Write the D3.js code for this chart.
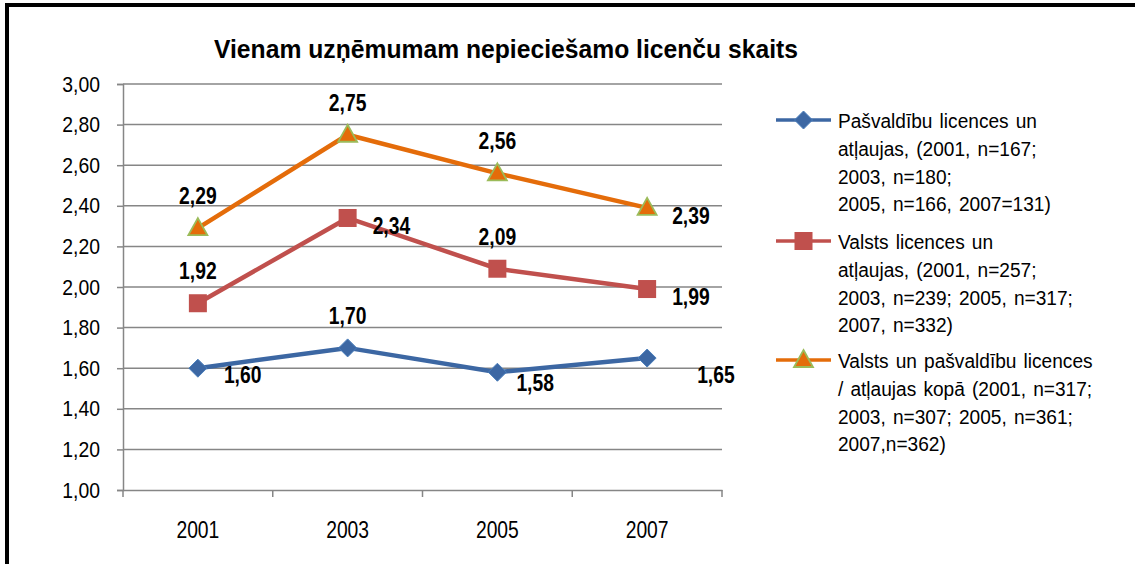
<!DOCTYPE html>
<html>
<head>
<meta charset="utf-8">
<script src="https://cdn.jsdelivr.net/npm/d3@7"></script>
<style>
  body { margin: 0; background: #fff; }
  svg text { font-family: "Liberation Sans", Arial, sans-serif; }
</style>
</head>
<body>
<script>
// Chart data
var years = ["2001", "2003", "2005", "2007"];
var yTicks = [1.0, 1.2, 1.4, 1.6, 1.8, 2.0, 2.2, 2.4, 2.6, 2.8, 3.0];

var pasvaldibu = [1.60, 1.70, 1.58, 1.65];
var valsts = [1.92, 2.34, 2.09, 1.99];
var kopa = [2.29, 2.75, 2.56, 2.39];

var legendPasvaldibu = ["Pašvaldību licences un", "atļaujas, (2001, n=167;", "2003, n=180;", "2005, n=166, 2007=131)"];
var legendValsts = ["Valsts licences un", "atļaujas, (2001, n=257;", "2003, n=239; 2005, n=317;", "2007, n=332)"];
var legendKopa = ["Valsts un pašvaldību licences", "/ atļaujas kopā (2001, n=317;", "2003, n=307; 2005, n=361;", "2007,n=362)"];

// label placement per point
var series = [
    { values: pasvaldibu, color: "#3C67A3", stroke: "#4A7EBB", marker: "diamond",
      legend: legendPasvaldibu, labelPos: ["below", "above", "below2", "far"] },
    { values: valsts, color: "#C0504D", stroke: "#C0504D", marker: "square",
      legend: legendValsts, labelPos: ["above", "right", "above", "right"] },
    { values: kopa, color: "#E46C0A", stroke: "#E46C0A", marker: "triangle",
      legend: legendKopa, labelPos: ["above", "above", "above", "right"] }
];

var width = 1135, height = 564;
var svg = d3.select("body").append("svg")
    .attr("width", width)
    .attr("height", height);

// condensed text helper
function addText(g, px, py, str, size, sx, opts) {
    opts = opts || {};
    return g.append("text")
        .attr("transform", `translate(${px},${py}) scale(${sx},1)`)
        .attr("text-anchor", opts.anchor || "start")
        .attr("font-size", size)
        .attr("font-weight", opts.bold ? "bold" : "normal")
        .attr("fill", "#000")
        .text(str);
}

// outer frame (top and left edges visible)
svg.append("line").attr("x1", 6).attr("x2", width).attr("y1", 5).attr("y2", 5)
    .attr("stroke", "#000").attr("stroke-width", 4);
svg.append("line").attr("x1", 7).attr("x2", 7).attr("y1", 3).attr("y2", height)
    .attr("stroke", "#000").attr("stroke-width", 4);

var x = d3.scaleBand().domain(years).range([123, 722]);
var y = d3.scaleLinear().domain([1, 3]).range([490, 84]);
var cx = function (i) { return x(years[i]) + x.bandwidth() / 2; };

// title
addText(svg, 506, 58, "Vienam uzņēmumam nepieciešamo licenču skaits", 26, 0.95, { anchor: "middle", bold: true });

var gridColor = "#868686";

// gridlines
svg.append("g").selectAll("line")
    .data(yTicks.slice(1))
    .enter().append("line")
    .attr("x1", 123).attr("x2", 722)
    .attr("y1", d => y(d)).attr("y2", d => y(d))
    .attr("stroke", gridColor).attr("stroke-width", 1.5);

// y axis
var ySx = 0.88;
var yAxis = svg.append("g")
    .attr("transform", "translate(123,0)")
    .call(d3.axisLeft(y).tickValues(yTicks).tickSize(6).tickPadding(17)
        .tickFormat(d => d3.format(".2f")(d).replace(".", ",")));
yAxis.select(".domain").attr("stroke", gridColor).attr("stroke-width", 1.5);
yAxis.selectAll(".tick line").attr("stroke", gridColor).attr("stroke-width", 1.5);
yAxis.selectAll("text")
    .attr("font-size", 22).attr("fill", "#000").attr("font-family", null)
    .attr("x", -23 / ySx)
    .attr("transform", `scale(${ySx},1)`);

// x axis
var xSx = 0.84;
var xAxis = svg.append("g")
    .attr("transform", "translate(0,490)")
    .call(d3.axisBottom(x).tickSize(0).tickPadding(32));
xAxis.select(".domain").attr("stroke", gridColor).attr("stroke-width", 1.5);
xAxis.selectAll(".tick text")
    .attr("font-size", 23).attr("fill", "#000").attr("font-family", null)
    .attr("dy", 0).attr("y", 48)
    .attr("transform", `scale(${xSx},1)`)
    .attr("x", 0);
// tick marks at band boundaries
svg.append("g").selectAll("line")
    .data(d3.range(years.length + 1))
    .enter().append("line")
    .attr("x1", i => 123 + i * x.bandwidth()).attr("x2", i => 123 + i * x.bandwidth())
    .attr("y1", 490).attr("y2", 497)
    .attr("stroke", gridColor).attr("stroke-width", 1.5);

function drawMarker(g, type, px, py, s) {
    if (type === "diamond") {
        g.append("path")
            .attr("d", `M${px},${py - 9}L${px + 9},${py}L${px},${py + 9}L${px - 9},${py}Z`)
            .attr("fill", s.color).attr("stroke", s.stroke).attr("stroke-width", 1);
    } else if (type === "square") {
        g.append("rect")
            .attr("x", px - 9).attr("y", py - 9).attr("width", 18).attr("height", 18)
            .attr("fill", s.color);
    } else {
        g.append("path")
            .attr("d", `M${px},${py - 10}L${px + 9.5},${py + 7}L${px - 9.5},${py + 7}Z`)
            .attr("fill", s.color).attr("stroke", "#9BBB59").attr("stroke-width", 1.8);
    }
}

var line = d3.line().x((d, i) => cx(i)).y(d => y(d));

series.forEach(function (s) {
    var g = svg.append("g");
    g.append("path")
        .datum(s.values)
        .attr("d", line)
        .attr("fill", "none")
        .attr("stroke", s.color)
        .attr("stroke-width", 4.5);
    s.values.forEach(function (v, i) {
        drawMarker(g, s.marker, cx(i), y(v), s);
    });
    // value labels
    s.values.forEach(function (v, i) {
        var pos = s.labelPos[i], lx = cx(i), ly = y(v);
        var anchor = "start";
        if (pos === "above") { ly = ly - 24; anchor = "middle"; }
        else if (pos === "right") { lx = lx + 25; ly = ly + 16; }
        else if (pos === "below") { lx = lx + 26; ly = ly + 15; }
        else if (pos === "below2") { lx = lx + 19; ly = ly + 19; }
        else if (pos === "far") { lx = lx + 50; ly = ly + 25; }
        addText(g, lx, ly, d3.format(".2f")(v).replace(".", ","), 23, 0.84, { anchor: anchor, bold: true });
    });
});

// legend
var legendTop = [128, 249, 368];
var lineGap = 27.8;
series.forEach(function (s, k) {
    var g = svg.append("g");
    var ly = legendTop[k] - 8;
    g.append("line").attr("x1", 776).attr("x2", 831).attr("y1", ly).attr("y2", ly)
        .attr("stroke", s.color).attr("stroke-width", 3.5);
    drawMarker(g, s.marker, 803.5, ly, s);
    s.legend.forEach(function (t, j) {
        addText(g, 838, legendTop[k] + j * lineGap, t, 21, 0.91)
            .style("word-spacing", "2px");
    });
});
</script>
</body>
</html>
